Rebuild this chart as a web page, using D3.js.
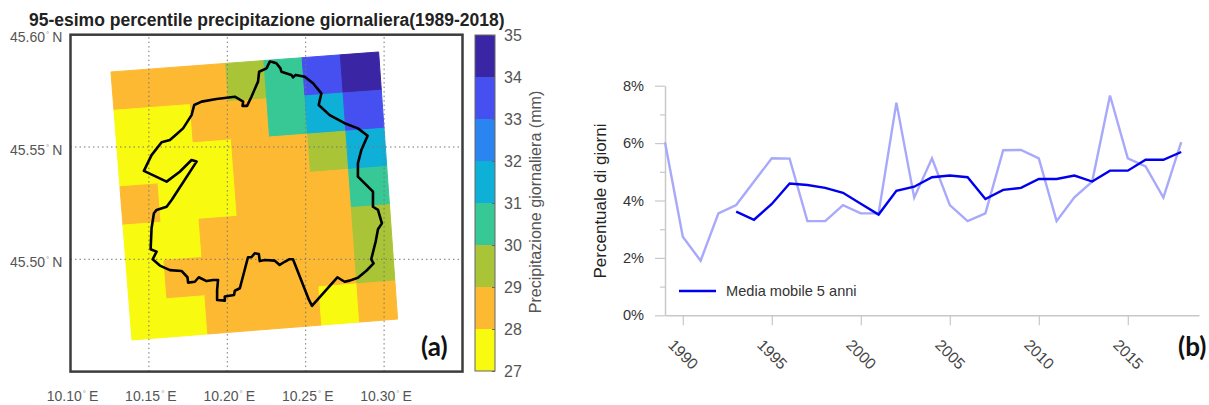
<!DOCTYPE html>
<html>
<head>
<meta charset="utf-8">
<script src="https://cdn.jsdelivr.net/npm/d3@7"></script>
<style>
html, body { margin: 0; padding: 0; background: #fff; }
svg { display: block; font-family: "Liberation Sans", Arial, sans-serif; }
</style>
</head>
<body>
<div id="chart"></div>
<script>
// panel (a): 95th percentile cells, rows from north to south, columns from west to east
var cellRows = [
	[28.5, 28.5, 28.5, 29.5, 30.5, 33.5, 34.5],
	[27.5, 27.5, 28.5, 28.5, 30.5, 31.5, 33.5],
	[27.5, 27.5, 27.5, 28.5, 28.5, 29.5, 31.5],
	[28.5, 27.5, 27.5, 28.5, 28.5, 28.5, 30.5],
	[27.5, 27.5, 28.5, 28.5, 28.5, 28.5, 29.5],
	[27.5, 28.5, 28.5, 28.5, 28.5, 28.5, 29.5],
	[27.5, 27.5, 28.5, 28.5, 28.5, 27.5, 28.5]
];
// grid corners: NW, NE, SE, SW
var cornerLon = [10.1258, 10.2965, 10.3086, 10.1392];
var cornerLat = [45.5834, 45.5923, 45.4734, 45.4641];
var colorSteps = [28, 29, 30, 31, 32, 33, 34];
var colorNames = ["#f8fa0f", "#fdb932", "#a9c437", "#37c896", "#0fb0d8", "#2a85f0", "#4650f0", "#3a25a5"];
var barTicks = [27, 28, 29, 30, 31, 32, 33, 34, 35];
var lonTicks = [10.10, 10.15, 10.20, 10.25, 10.30];
var latTicks = [45.50, 45.55, 45.60];

var boundaryLon = [
	10.2282, 10.2313, 10.2339, 10.2345, 10.2409, 10.2419, 10.2436, 10.2494, 10.2547, 10.2600,
	10.2583, 10.2653, 10.2748, 10.2833, 10.2895, 10.2855, 10.2833, 10.2833, 10.2929, 10.2929,
	10.2961, 10.2986, 10.2961, 10.2946, 10.2918, 10.2933, 10.2887, 10.2833, 10.2780, 10.2748,
	10.2702, 10.2540, 10.2521, 10.2419, 10.2394, 10.2366, 10.2334, 10.2303, 10.2239, 10.2207,
	10.2201, 10.2175, 10.2154, 10.2132, 10.2080, 10.2048, 10.2043, 10.1984, 10.1984, 10.1935,
	10.1935, 10.1941, 10.1910, 10.1868, 10.1818, 10.1793, 10.1750, 10.1746, 10.1708, 10.1634,
	10.1570, 10.1524, 10.1549, 10.1511, 10.1517, 10.1532, 10.1549, 10.1613, 10.1645, 10.1804,
	10.1772, 10.1697, 10.1613, 10.1468, 10.1517, 10.1581, 10.1634, 10.1676, 10.1718, 10.1772,
	10.1789, 10.1836, 10.1931, 10.2048, 10.2101, 10.2097, 10.2126, 10.2154, 10.2196, 10.2203,
	10.2250, 10.2271, 10.2282
];
var boundaryLat = [
	45.5880, 45.5873, 45.5850, 45.5835, 45.5821, 45.5810, 45.5821, 45.5813, 45.5784, 45.5739,
	45.5687, 45.5642, 45.5606, 45.5583, 45.5550, 45.5487, 45.5427, 45.5368, 45.5301, 45.5234,
	45.5220, 45.5160, 45.5134, 45.5078, 45.5000, 45.4982, 45.4949, 45.4918, 45.4905, 45.4900,
	45.4920, 45.4793, 45.4819, 45.5000, 45.5000, 45.4989, 45.4975, 45.4994, 45.4997, 45.4992,
	45.5024, 45.5027, 45.5009, 45.5009, 45.4871, 45.4860, 45.4841, 45.4834, 45.4816, 45.4819,
	45.4863, 45.4908, 45.4908, 45.4903, 45.4920, 45.4900, 45.4896, 45.4920, 45.4948, 45.4952,
	45.4972, 45.5000, 45.5034, 45.5045, 45.5138, 45.5205, 45.5220, 45.5234, 45.5264, 45.5435,
	45.5442, 45.5390, 45.5346, 45.5394, 45.5464, 45.5521, 45.5531, 45.5557, 45.5583, 45.5642,
	45.5687, 45.5702, 45.5714, 45.5724, 45.5702, 45.5683, 45.5683, 45.5724, 45.5791, 45.5835,
	45.5850, 45.5880, 45.5880
];

// panel (b): percent of days per year
var years = [1989, 1990, 1991, 1992, 1993, 1994, 1995, 1996, 1997, 1998, 1999, 2000, 2001, 2002, 2003,
	2004, 2005, 2006, 2007, 2008, 2009, 2010, 2011, 2012, 2013, 2014, 2015, 2016, 2017, 2018];
var yearlyPct = [6.03, 2.74, 1.90, 3.55, 3.84, 4.66, 5.47, 5.46, 3.28, 3.28, 3.84, 3.55, 3.55, 7.41, 4.10,
	5.47, 3.84, 3.28, 3.55, 5.75, 5.76, 5.47, 3.28, 4.11, 4.66, 7.66, 5.47, 5.19, 4.10, 6.03];
var movingYears = years.slice(4);
var movingPct = [3.61, 3.33, 3.88, 4.59, 4.54, 4.44, 4.27, 3.89, 3.51, 4.34, 4.48, 4.81, 4.87, 4.81, 4.05,
	4.37, 4.44, 4.75, 4.75, 4.87, 4.66, 5.04, 5.04, 5.42, 5.42, 5.69];
var yearTicks = [1990, 1995, 2000, 2005, 2010, 2015];
var pctTicks = [0, 1, 2, 3, 4, 5, 6, 7, 8];

var svg = d3.select("#chart").append("svg")
	.attr("width", 1209)
	.attr("height", 405);

draw_map();
draw_colorbar();
draw_lines();

function draw_map(){
	var x = d3.scaleLinear().domain([10.10, 10.35]).range([70.5, 462.5]);
	var y = d3.scaleLinear().domain([45.45, 45.60]).range([371.6, 34.7]);
	var color = d3.scaleThreshold().domain(colorSteps).range(colorNames);
	var nRows = cellRows.length;
	var nCols = cellRows[0].length;

	// position inside the rotated grid, u along columns and v along rows
	function gridPoint(u, v){
		var lon = (1-v)*((1-u)*cornerLon[0] + u*cornerLon[1]) + v*((1-u)*cornerLon[3] + u*cornerLon[2]);
		var lat = (1-v)*((1-u)*cornerLat[0] + u*cornerLat[1]) + v*((1-u)*cornerLat[3] + u*cornerLat[2]);
		return [x(lon), y(lat)];
	}

	var cells = [];
	cellRows.forEach(function(row, r){
		row.forEach(function(value, c){
			cells.push({r: r, c: c, value: value});
		});
	});

	svg.append("g").selectAll("polygon").data(cells).enter()
		.append("polygon")
		.attr("points", function(d){
			return [
				gridPoint(d.c/nCols, d.r/nRows),
				gridPoint((d.c+1)/nCols, d.r/nRows),
				gridPoint((d.c+1)/nCols, (d.r+1)/nRows),
				gridPoint(d.c/nCols, (d.r+1)/nRows)
			].map(function(p){ return p.join(","); }).join(" ");
		})
		.attr("fill", function(d){ return color(d.value); })
		.attr("stroke", function(d){ return color(d.value); })
		.attr("stroke-width", 1);

	// dotted graticule
	svg.append("g").selectAll("line").data(lonTicks.slice(1)).enter()
		.append("line")
		.attr("x1", function(d){ return x(d); })
		.attr("x2", function(d){ return x(d); })
		.attr("y1", y.range()[0])
		.attr("y2", y.range()[1])
		.attr("stroke", "#777")
		.attr("stroke-width", 1)
		.attr("stroke-dasharray", "1.5,3");
	svg.append("g").selectAll("line").data(latTicks.slice(0, 2)).enter()
		.append("line")
		.attr("x1", x.range()[0])
		.attr("x2", x.range()[1])
		.attr("y1", function(d){ return y(d); })
		.attr("y2", function(d){ return y(d); })
		.attr("stroke", "#777")
		.attr("stroke-width", 1)
		.attr("stroke-dasharray", "1.5,3");

	var boundary = d3.line()
		.x(function(d, i){ return x(d); })
		.y(function(d, i){ return y(boundaryLat[i]); });
	svg.append("path")
		.attr("d", boundary(boundaryLon))
		.attr("fill", "none")
		.attr("stroke", "#000")
		.attr("stroke-width", 2.6)
		.attr("stroke-linejoin", "round");

	svg.append("rect")
		.attr("x", x.range()[0])
		.attr("y", y.range()[1])
		.attr("width", x.range()[1] - x.range()[0])
		.attr("height", y.range()[0] - y.range()[1])
		.attr("fill", "none")
		.attr("stroke", "#3c3c3c")
		.attr("stroke-width", 2.5);

	// tick labels with the small degree sign
	function degreeLabel(sel, suffix){
		sel.attr("font-size", 14).attr("fill", "#555");
		sel.append("tspan").text(function(d){ return d.toFixed(2); });
		sel.append("tspan").attr("font-size", 8).attr("dx", 1).attr("dy", -5).attr("fill", "#888").text("°");
		sel.append("tspan").attr("dx", 3).attr("dy", 5).text(suffix);
	}
	svg.append("g").selectAll("text").data(lonTicks).enter()
		.append("text")
		.attr("x", function(d){ return x(d) + 2; })
		.attr("y", 401)
		.attr("text-anchor", "middle")
		.call(degreeLabel, "E");
	svg.append("g").selectAll("text").data(latTicks).enter()
		.append("text")
		.attr("x", 10)
		.attr("y", function(d){ return y(d) + 7.5; })
		.call(degreeLabel, "N");

	svg.append("text")
		.attr("x", 29)
		.attr("y", 26)
		.attr("font-size", 17.5)
		.attr("font-weight", "bold")
		.attr("fill", "#222")
		.text("95-esimo percentile precipitazione giornaliera(1989-2018)");

	svg.append("text")
		.attr("x", 421)
		.attr("y", 356)
		.attr("font-family", "Lato")
		.attr("font-size", 26)
		.attr("font-weight", "bold")
		.attr("fill", "#111")
		.text("(a)");
}

function draw_colorbar(){
	var y = d3.scaleLinear().domain([27, 35]).range([371, 35]);
	var bands = d3.range(barTicks.length - 1);

	svg.append("g").selectAll("rect").data(bands).enter()
		.append("rect")
		.attr("x", 475)
		.attr("y", function(d){ return y(barTicks[d+1]); })
		.attr("width", 20)
		.attr("height", function(d){ return y(barTicks[d]) - y(barTicks[d+1]); })
		.attr("fill", function(d){ return colorNames[d]; });

	svg.append("rect")
		.attr("x", 475)
		.attr("y", 35)
		.attr("width", 20)
		.attr("height", 336)
		.attr("fill", "none")
		.attr("stroke", "#666")
		.attr("stroke-width", 1);

	var axis = d3.axisRight(y).tickValues(barTicks).tickSize(-3).tickPadding(9);
	var g = svg.append("g").attr("transform", "translate(495,0)").call(axis);
	g.select(".domain").remove();
	g.selectAll("line").attr("stroke", "#666");
	g.selectAll("text")
		.attr("font-family", "Liberation Sans")
		.attr("font-size", 16)
		.attr("fill", "#555");

	svg.append("text")
		.attr("transform", "translate(541,202) rotate(-90)")
		.attr("text-anchor", "middle")
		.attr("font-size", 16.1)
		.attr("fill", "#555")
		.text("Precipitazione giornaliera (mm)");
}

function draw_lines(){
	var x = d3.scaleLinear().domain([1989, 2019]).range([665, 1199]);
	var y = d3.scaleLinear().domain([0, 8]).range([315.3, 85.7]);
	var axisColor = "#c8c8c8";

	var yAxis = d3.axisLeft(y).tickValues(pctTicks).tickSize(10).tickSizeOuter(0).tickPadding(11)
		.tickFormat(function(d){ return d % 2 == 0 ? d + "%" : ""; });
	var gy = svg.append("g").attr("transform", "translate(665,0)").call(yAxis);
	gy.select(".domain").attr("stroke", axisColor).attr("stroke-width", 1.5);
	gy.selectAll(".tick line")
		.attr("stroke", axisColor)
		.attr("stroke-width", 1.2)
		.attr("x2", function(d){ return d % 2 == 0 ? -10 : -5; });
	gy.selectAll("text")
		.attr("font-family", "Liberation Sans")
		.attr("font-size", 14.6)
		.attr("fill", "#333");

	var xAxis = d3.axisBottom(x).tickValues(yearTicks).tickSize(10).tickSizeOuter(0).tickFormat(d3.format("d"));
	var gx = svg.append("g").attr("transform", "translate(0,315.3)").call(xAxis);
	gx.select(".domain").attr("stroke", axisColor).attr("stroke-width", 1.5);
	gx.selectAll(".tick line").attr("stroke", axisColor).attr("stroke-width", 1.2);
	gx.selectAll("text")
		.attr("font-family", "Liberation Sans")
		.attr("font-size", 15.6)
		.attr("fill", "#444")
		.attr("text-anchor", "middle")
		.attr("y", 0)
		.attr("dy", "0.35em")
		.attr("transform", "translate(0,39) rotate(45)");

	var lightLine = d3.line()
		.x(function(d, i){ return x(years[i]); })
		.y(function(d){ return y(d); });
	svg.append("path")
		.attr("d", lightLine(yearlyPct))
		.attr("fill", "none")
		.attr("stroke", "#a9a9fb")
		.attr("stroke-width", 2.4);

	var movingLine = d3.line()
		.x(function(d, i){ return x(movingYears[i]); })
		.y(function(d){ return y(d); });
	svg.append("path")
		.attr("d", movingLine(movingPct))
		.attr("fill", "none")
		.attr("stroke", "#0000ee")
		.attr("stroke-width", 2.4);

	svg.append("line")
		.attr("x1", 679)
		.attr("x2", 716)
		.attr("y1", 291)
		.attr("y2", 291)
		.attr("stroke", "#0000ee")
		.attr("stroke-width", 2.4);
	svg.append("text")
		.attr("x", 726)
		.attr("y", 296)
		.attr("font-size", 14.6)
		.attr("fill", "#333")
		.text("Media mobile 5 anni");

	svg.append("text")
		.attr("transform", "translate(606,201) rotate(-90)")
		.attr("text-anchor", "middle")
		.attr("font-size", 17)
		.attr("fill", "#222")
		.text("Percentuale di giorni");

	svg.append("text")
		.attr("x", 1178)
		.attr("y", 356)
		.attr("font-family", "Lato")
		.attr("font-size", 26)
		.attr("font-weight", "bold")
		.attr("fill", "#111")
		.text("(b)");
}
</script>
</body>
</html>
